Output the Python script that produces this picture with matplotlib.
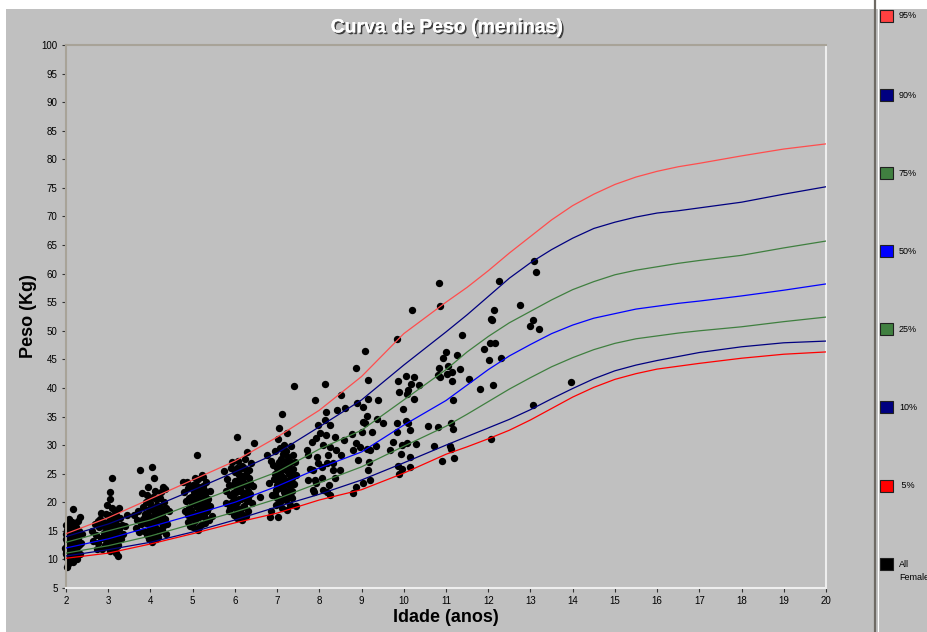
import numpy as np
import matplotlib.pyplot as plt
import matplotlib.patheffects as pe
from matplotlib.patches import Rectangle
from matplotlib.lines import Line2D

plt.rcParams['font.family'] = ['Liberation Sans', 'DejaVu Sans']

# percentile curves (weight in kg by age in years)
idades = [2, 3, 4, 5, 6, 7, 8, 9, 10, 11, 11.5, 12, 12.5, 13, 13.5, 14, 14.5, 15, 15.5, 16, 16.5, 17, 18, 19, 20]
p95 = [14.5, 17.3, 20.6, 23.9, 27.2, 31.4, 36.1, 42.0, 49.5, 55.0, 57.6, 60.5, 63.6, 66.5, 69.4, 71.9, 73.9, 75.6,
       76.9, 77.9, 78.7, 79.3, 80.6, 81.8, 82.7]
p90 = [14.0, 16.2, 19.0, 22.1, 25.3, 28.6, 33.2, 37.9, 44.0, 49.8, 52.8, 56.0, 59.2, 61.9, 64.2, 66.2, 67.9, 69.0,
       69.9, 70.6, 71.0, 71.5, 72.5, 73.9, 75.2]
p75 = [13.0, 15.0, 16.9, 19.7, 22.5, 25.3, 29.3, 32.6, 37.9, 43.2, 46.3, 49.0, 51.4, 53.4, 55.4, 57.2, 58.6, 59.8,
       60.6, 61.2, 61.8, 62.3, 63.2, 64.5, 65.7]
p50 = [12.0, 13.6, 15.7, 17.8, 20.0, 22.8, 26.0, 28.8, 33.5, 37.8, 40.5, 43.2, 45.6, 47.6, 49.5, 51.0, 52.2, 53.0,
       53.8, 54.3, 54.8, 55.2, 56.1, 57.1, 58.2]
p25 = [11.1, 12.4, 14.1, 16.2, 18.3, 20.6, 23.4, 26.2, 29.8, 33.3, 35.4, 37.6, 39.8, 41.8, 43.7, 45.3, 46.7, 47.8,
       48.6, 49.1, 49.6, 50.0, 50.7, 51.6, 52.4]
p10 = [10.6, 11.7, 13.0, 14.8, 16.9, 19.2, 21.4, 23.9, 26.9, 30.0, 31.5, 33.0, 34.5, 36.2, 38.1, 39.9, 41.6, 43.0,
       44.0, 44.8, 45.5, 46.2, 47.2, 47.9, 48.2]
p5 = [10.2, 11.1, 12.7, 14.5, 16.4, 18.1, 20.4, 22.2, 25.1, 28.4, 29.7, 31.1, 32.6, 34.4, 36.4, 38.4, 40.1, 41.5,
      42.5, 43.3, 43.8, 44.3, 45.2, 45.9, 46.3]

# measured girls (age, weight), grouped by visit age
pts2 = [(2.17, 18.8), (2.02, 8.7), (2.28, 16.7), (2.38, 14.5), (1.98, 12.0), (2.00, 13.5), (2.01, 11.2), (2.02, 15.1),
        (2.03, 10.3), (2.04, 14.0), (2.05, 12.7), (2.06, 16.2), (2.07, 9.6), (2.08, 13.2), (1.99, 11.0), (2.09, 15.8),
        (2.10, 12.3), (2.11, 14.6), (2.12, 10.8), (2.13, 11.9), (2.14, 16.6), (2.15, 13.9), (2.16, 9.5), (2.18, 15.3),
        (2.19, 12.8), (2.20, 13.0), (2.21, 14.9), (2.22, 11.4), (2.23, 15.6), (2.24, 12.1), (2.25, 10.1), (2.26, 14.3),
        (2.27, 11.1), (2.29, 13.6), (2.30, 12.5), (2.32, 17.4), (2.34, 11.0), (2.05, 10.2), (2.08, 15.0), (2.12, 14.4),
        (2.00, 11.7), (2.03, 13.1), (2.06, 10.6), (2.09, 16.7), (2.11, 11.6), (2.14, 13.8), (2.17, 12.4), (2.20, 10.9),
        (2.23, 14.1), (2.01, 16.0), (2.04, 9.2), (2.07, 17.0), (2.10, 11.8), (2.13, 14.8), (2.16, 12.0), (2.19, 15.9),
        (2.22, 13.3), (2.25, 11.5), (2.36, 12.9), (2.31, 14.9), (2.02, 12.6), (2.05, 14.4), (2.08, 11.5), (2.11, 13.5),
        (2.14, 12.2), (2.18, 14.0), (2.21, 12.0), (2.04, 13.0), (2.07, 15.5), (2.10, 10.4), (2.13, 15.2), (2.16, 14.3),
        (2.01, 14.5), (2.06, 12.0), (2.09, 13.0), (2.12, 12.9)]
pts3 = [(3.09, 24.2), (3.04, 21.8), (3.23, 10.6), (3.45, 17.8), (2.73, 11.8), (2.62, 15.0), (2.65, 13.2), (2.68, 16.2),
        (2.70, 14.3), (2.75, 12.8), (2.78, 15.6), (2.80, 17.0), (2.82, 13.8), (2.85, 11.9), (2.88, 16.5), (2.90, 14.7),
        (2.92, 12.5), (2.95, 18.0), (2.97, 15.2), (3.00, 13.0), (3.02, 16.8), (3.04, 11.4), (3.06, 14.4), (3.08, 19.0),
        (3.10, 12.2), (3.12, 15.8), (3.14, 17.6), (3.16, 13.4), (3.18, 11.2), (3.20, 16.0), (3.22, 14.0), (3.24, 12.6),
        (3.26, 15.4), (3.28, 17.2), (3.30, 13.6), (3.32, 16.0), (3.36, 14.5), (3.40, 15.8), (3.05, 20.5), (2.98, 19.5),
        (3.15, 18.5), (2.87, 14.0), (3.01, 15.0), (3.11, 16.3), (3.19, 14.8), (2.93, 16.0), (3.07, 12.8), (2.83, 18.2),
        (3.13, 11.6), (3.25, 19.0), (2.76, 16.8), (3.03, 17.8), (3.17, 15.6), (2.96, 14.2), (3.00, 16.4), (3.04, 15.5),
        (3.08, 13.6), (3.12, 14.2), (3.16, 16.8), (3.20, 12.4), (2.90, 15.8), (2.94, 13.4), (3.02, 12.0), (3.06, 17.0),
        (3.10, 15.0), (3.14, 13.0), (3.18, 17.8), (2.86, 16.8)]
pts4 = [(3.75, 25.7), (4.03, 26.2), (4.08, 24.2), (3.80, 21.6), (3.95, 22.6), (4.30, 22.6), (4.03, 13.0), (3.68, 16.9),
        (3.62, 17.8), (3.65, 15.5), (3.70, 18.5), (3.72, 14.8), (3.78, 16.2), (3.82, 19.2), (3.85, 15.0), (3.88, 17.5),
        (3.90, 20.0), (3.92, 14.2), (3.94, 16.8), (3.96, 18.8), (3.98, 15.6), (4.00, 19.8), (4.02, 17.2), (4.04, 14.6),
        (4.06, 21.0), (4.08, 16.0), (4.10, 18.2), (4.12, 13.6), (4.14, 20.5), (4.16, 15.3), (4.18, 17.8), (4.20, 19.3),
        (4.22, 14.9), (4.24, 16.5), (4.26, 21.8), (4.28, 18.0), (4.30, 15.8), (4.32, 20.0), (4.34, 17.0), (4.36, 14.4),
        (4.38, 19.0), (4.40, 16.2), (4.43, 18.4), (3.86, 18.0), (3.93, 21.3), (4.01, 16.4), (4.11, 22.0), (4.19, 14.0),
        (4.27, 17.4), (4.35, 22.4), (3.97, 13.5), (4.05, 18.6), (4.15, 17.6), (4.23, 20.8), (3.83, 17.0), (4.09, 15.0),
        (4.31, 16.6), (3.95, 17.8), (4.00, 15.4), (4.04, 19.0), (4.08, 17.4), (4.12, 16.6), (4.16, 19.6), (4.20, 16.9),
        (4.24, 18.6), (4.28, 15.2), (3.90, 16.4), (3.98, 20.6), (4.06, 14.0), (4.14, 18.8), (4.22, 17.9), (4.32, 18.8)]
pts5 = [(5.10, 28.3), (4.77, 23.6), (5.22, 24.8), (5.13, 15.2), (5.00, 15.7), (4.80, 21.8), (4.82, 18.5), (4.85, 20.3),
        (4.88, 16.6), (4.90, 22.5), (4.92, 19.0), (4.95, 17.5), (4.97, 21.0), (5.00, 23.0), (5.02, 18.0), (5.04, 20.4),
        (5.06, 16.8), (5.08, 22.0), (5.10, 19.2), (5.12, 24.0), (5.14, 17.4), (5.16, 21.5), (5.18, 18.6), (5.20, 20.0),
        (5.22, 16.2), (5.24, 22.8), (5.26, 19.6), (5.28, 17.8), (5.30, 21.2), (5.32, 23.5), (5.34, 18.4), (5.36, 20.6),
        (5.38, 16.9), (5.40, 19.3), (5.42, 22.0), (5.45, 17.6), (4.87, 23.5), (4.93, 15.8), (5.05, 24.2), (5.15, 15.6),
        (5.25, 24.5), (5.03, 21.8), (5.11, 20.8), (5.19, 22.6), (5.27, 20.8), (4.98, 19.8), (5.07, 17.9), (5.21, 18.8),
        (5.33, 19.8), (4.91, 20.7), (5.09, 23.1), (5.29, 16.4), (4.96, 18.6), (5.00, 20.6), (5.04, 17.2), (5.08, 19.6),
        (5.12, 21.8), (5.16, 18.2), (5.20, 21.8), (5.24, 17.6), (5.28, 22.2), (5.32, 17.0), (4.90, 17.8), (5.02, 22.6),
        (5.14, 19.8), (5.26, 21.4), (5.36, 19.0)]
pts6 = [(6.05, 31.4), (6.29, 28.8), (6.45, 30.4), (5.93, 27.0), (6.76, 28.2), (6.60, 20.9), (6.17, 16.9), (6.83, 17.4),
        (5.75, 25.5), (5.78, 22.0), (5.80, 19.8), (5.82, 24.0), (5.85, 18.5), (5.88, 21.3), (5.90, 26.0), (5.92, 20.0),
        (5.95, 23.1), (5.97, 17.8), (6.00, 25.3), (6.02, 21.8), (6.04, 19.0), (6.06, 23.8), (6.08, 27.2), (6.10, 20.6),
        (6.12, 22.5), (6.14, 18.2), (6.16, 24.6), (6.18, 26.3), (6.20, 21.0), (6.22, 19.3), (6.24, 23.2), (6.26, 25.0),
        (6.28, 20.2), (6.30, 22.0), (6.32, 18.5), (6.34, 24.2), (6.36, 21.5), (6.38, 26.8), (6.40, 19.8), (6.05, 17.2),
        (5.98, 20.8), (6.11, 25.8), (6.19, 23.6), (6.27, 17.6), (5.86, 23.0), (6.02, 22.7), (6.23, 21.3), (6.33, 25.6),
        (5.96, 19.2), (6.09, 24.8), (6.15, 20.5), (6.42, 22.8), (6.00, 18.0), (6.25, 27.5), (5.95, 21.6), (6.00, 23.8),
        (6.04, 20.0), (6.08, 22.0), (6.12, 24.0), (6.16, 21.8), (6.20, 19.2), (6.24, 24.6), (6.28, 22.8), (6.32, 20.6),
        (5.88, 19.0), (6.06, 26.0), (6.14, 23.0), (6.22, 26.0), (6.36, 23.4)]
pts7 = [(7.40, 40.3), (7.12, 35.4), (7.02, 31.1), (7.23, 32.1), (7.38, 28.3), (7.02, 17.4), (6.85, 18.4), (6.80, 23.4),
        (6.92, 24.0), (7.00, 26.0), (7.05, 22.5), (7.08, 20.1), (7.10, 27.5), (7.15, 24.5), (7.18, 21.2), (7.20, 29.0),
        (7.25, 26.6), (7.28, 23.1), (7.30, 19.6), (7.33, 25.4), (7.35, 22.0), (7.42, 27.0), (7.45, 24.8), (6.88, 21.2),
        (6.95, 28.9), (6.97, 19.5), (7.03, 23.8), (7.06, 25.2), (7.12, 19.0), (7.14, 22.8), (7.17, 30.0), (7.22, 20.4),
        (7.26, 28.0), (7.30, 24.0), (7.36, 20.8), (7.40, 23.2), (6.90, 26.5), (6.98, 22.2), (7.08, 29.5), (7.20, 25.7),
        (7.24, 18.6), (7.32, 27.0), (7.44, 19.4), (7.10, 23.3), (7.00, 20.8), (6.86, 27.2), (7.16, 26.4), (7.28, 21.8),
        (7.34, 29.8), (6.94, 25.0), (7.04, 33.0), (7.22, 22.0), (7.38, 25.8), (7.00, 23.0), (7.04, 27.0), (7.08, 24.4),
        (7.12, 26.0), (7.16, 21.8), (7.20, 23.8), (7.24, 27.2), (7.28, 25.0), (7.32, 21.0), (6.96, 21.4), (7.06, 20.6),
        (7.14, 28.4), (7.22, 26.8), (7.30, 23.0), (7.36, 24.2)]
pts8 = [(8.14, 40.7), (7.90, 37.9), (8.15, 35.8), (8.43, 36.1), (8.14, 34.4), (8.02, 32.2), (7.92, 31.2), (8.09, 30.0),
        (8.25, 29.7), (8.37, 31.5), (8.40, 29.1), (7.94, 28.0), (7.78, 25.9), (7.74, 23.9), (7.90, 23.9), (8.06, 26.2),
        (8.18, 26.8), (8.33, 26.8), (7.86, 22.2), (8.09, 22.2), (8.25, 21.3), (7.70, 29.1), (8.51, 38.8), (8.60, 36.5),
        (7.97, 33.5), (8.25, 33.5), (7.83, 30.5), (8.21, 28.3), (8.49, 25.6), (7.85, 25.6), (8.06, 24.2), (8.37, 24.2),
        (7.97, 26.9), (7.73, 28.3), (8.16, 31.8), (8.58, 30.9), (8.51, 28.3), (8.32, 25.6), (7.92, 23.4), (8.23, 23.0),
        (7.87, 21.8), (8.18, 21.8)]
pts9 = [(8.87, 43.5), (9.08, 46.5), (9.15, 41.4), (8.89, 37.4), (9.15, 38.1), (9.39, 37.9), (9.04, 36.7), (9.14, 35.1),
        (9.03, 34.1), (9.07, 33.8), (9.24, 32.3), (8.78, 31.9), (9.00, 32.3), (9.50, 33.9), (9.37, 34.6), (8.86, 30.3),
        (8.96, 29.7), (9.12, 29.3), (9.20, 29.1), (9.34, 29.9), (8.80, 29.1), (8.92, 27.4), (9.18, 27.1), (9.16, 25.6),
        (9.20, 23.9), (9.04, 23.3), (8.87, 22.7), (8.80, 21.6)]
pts10 = [(9.84, 48.6), (10.20, 53.6), (10.05, 42.1), (10.24, 41.9), (9.86, 41.2), (10.17, 40.7), (10.36, 40.5),
         (10.10, 39.6), (10.08, 38.9), (9.89, 39.3), (10.24, 38.1), (9.98, 36.3), (9.83, 33.8), (10.05, 34.3),
         (10.11, 33.9), (10.15, 32.6), (9.85, 32.3), (9.75, 30.6), (9.67, 29.1), (9.95, 30.0), (10.08, 30.4),
         (10.29, 30.2), (9.94, 28.4), (10.15, 27.9), (9.87, 26.3), (9.95, 25.9), (10.15, 26.2), (9.88, 24.9)]
pts11 = [(10.83, 58.4), (10.86, 54.3), (11.38, 49.3), (11.00, 46.3), (10.93, 45.2), (11.26, 45.8), (10.83, 43.5),
         (11.05, 43.8), (11.33, 43.3), (10.81, 42.3), (10.86, 41.9), (11.02, 42.4), (11.14, 42.8), (11.14, 41.2),
         (11.55, 41.6), (11.17, 37.9), (10.57, 33.4), (10.80, 33.1), (11.12, 33.9), (11.17, 32.9), (10.71, 29.9),
         (11.10, 29.9), (11.13, 29.3), (10.91, 27.3), (11.19, 27.7)]
pts12 = [(12.26, 58.7), (12.75, 54.5), (12.14, 53.6), (12.07, 52.1), (12.09, 51.9), (12.04, 47.9), (12.16, 47.9),
         (11.90, 46.8), (12.30, 45.2), (12.02, 44.9), (12.11, 40.5), (11.81, 39.8), (12.07, 31.1)]
pts13 = [(13.08, 62.2), (13.13, 60.3), (13.06, 51.9), (12.99, 50.8), (13.20, 50.3), (13.05, 37.0), (13.96, 41.0)]

curvas = [(p95, '#ff4d4d'), (p90, '#000080'), (p75, '#3f7f3f'), (p50, '#0000ff'),
          (p25, '#3f7f3f'), (p10, '#000080'), (p5, '#ff0000')]

leg_labels = ['95%', '90%', '75%', '50%', '25%', '10%', ' 5%', 'All\nFemales']
leg_colors = ['#ff4040', '#000080', '#408040', '#0000ff', '#408040', '#000080', '#ff0000', '#000000']

W, H = 927, 632
fig = plt.figure(figsize=(W / 100, H / 100), dpi=100, facecolor='#c0c0c0')
ax = fig.add_axes([66 / W, (H - 588) / H, 760 / W, 543 / H])
ax.set_facecolor('#c0c0c0')

pontos = np.array(pts2 + pts3 + pts4 + pts5 + pts6 + pts7 + pts8 + pts9 + pts10 + pts11 + pts12 + pts13)
ax.scatter(pontos[:, 0], pontos[:, 1], s=28, c='black', linewidths=0, zorder=2, clip_on=False)

for valores, cor in curvas:
    ax.plot(idades, valores, color=cor, lw=0.9, zorder=3)

ax.set_xlim(2, 20)
ax.set_ylim(5, 100)
ax.set_xticks(range(2, 21))
ax.set_yticks(range(5, 101, 5))
ax.tick_params(axis='both', labelsize=7, length=3, width=0.8, color='#333333', pad=3)

# sunken-frame look: dark top/left, light bottom/right
ax.spines['top'].set_color('#a8a398')
ax.spines['left'].set_color('#a8a398')
ax.spines['bottom'].set_color('#eeeeee')
ax.spines['right'].set_color('#eeeeee')
for s in ax.spines.values():
    s.set_linewidth(1.5)

ax.set_xlabel('Idade (anos)', fontsize=13, fontweight='bold', labelpad=2)
ax.set_ylabel('Peso (Kg)', fontsize=13, fontweight='bold', labelpad=3)

fig.text(447 / W, 1 - 28 / H, 'Curva de Peso (meninas)', ha='center', va='center', fontsize=14,
         fontweight='bold', color='white',
         path_effects=[pe.withSimplePatchShadow(offset=(1.2, -1.2), shadow_rgbFace='#303030', alpha=0.9),
                       pe.Normal()])

# white edges of the frame
fig.add_artist(Rectangle((0, 1 - 9 / H), 1, 9 / H, transform=fig.transFigure, color='white', lw=0))
fig.add_artist(Rectangle((0, 0), 6 / W, 1, transform=fig.transFigure, color='white', lw=0))

# legend panel separator
fig.add_artist(Line2D([875 / W, 875 / W], [0, 1], transform=fig.transFigure, color='#6e6a64', lw=1.6))
fig.add_artist(Line2D([877.5 / W, 877.5 / W], [0, 1], transform=fig.transFigure, color='white', lw=0.8))

leg_y = [16, 95, 173, 251, 329, 407, 486, 564]
for yy, lab, cor in zip(leg_y, leg_labels, leg_colors):
    fig.add_artist(Rectangle((880 / W, 1 - (yy + 6) / H), 13 / W, 12 / H, transform=fig.transFigure,
                             facecolor=cor, edgecolor='#202020', lw=0.8))
    if '\n' in lab:
        fig.text(899 / W, 1 - (yy - 4) / H, lab, ha='left', va='top', fontsize=6.5, linespacing=1.5)
    else:
        fig.text(899 / W, 1 - yy / H, lab, ha='left', va='center', fontsize=6.5)

fig.savefig('out.png', dpi=100, facecolor=fig.get_facecolor())
